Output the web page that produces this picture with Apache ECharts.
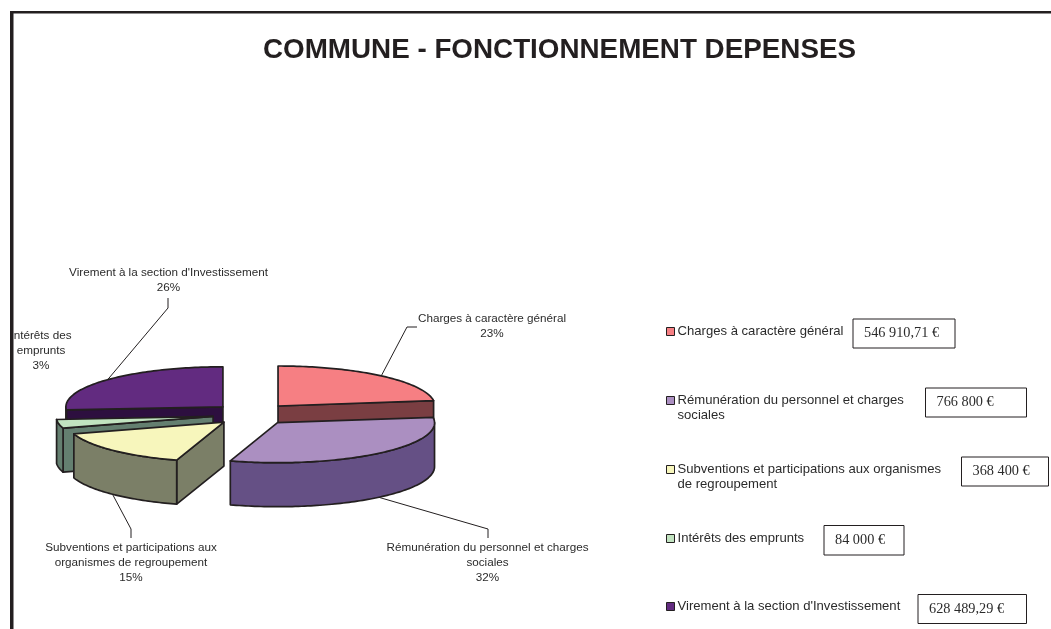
<!DOCTYPE html>
<html>
<head>
<meta charset="utf-8">
<title>Commune - fonctionnement depenses</title>
<script src="https://cdn.jsdelivr.net/npm/echarts@6/dist/echarts.min.js"></script>
<style>
html,body{margin:0;padding:0;background:#fff;}
#chart{width:1051px;height:629px;}
</style>
</head>
<body>
<div id="chart"></div>
<script>
var categories=['Charges à caractère général','Rémunération du personnel et charges sociales','Subventions et participations aux organismes de regroupement','Intérêts des emprunts',"Virement à la section d'Investissement"];
var values=[546910.71,766800,368400,84000,628489.29];
var amountLabels=['546 910,71 €','766 800 €','368 400 €','84 000 €','628 489,29 €'];
var percentLabels=['23%','32%','15%','3%','26%'];
var sliceLabels=['Charges à caractère général','Rémunération du personnel et charges\nsociales','Subventions et participations aux\norganismes de regroupement','Intérêts des\nemprunts',"Virement à la section d'Investissement"];
var legendLabels=['Charges à caractère général','Rémunération du personnel et charges\nsociales','Subventions et participations aux organismes\nde regroupement','Intérêts des emprunts',"Virement à la section d'Investissement"];

var topColors=['#F67F83','#AB8FC1','#F7F6BC','#C1E3C0','#622B80'];
var sideColors=['#7A3E42','#655085','#7B7F67','#647F70','#2D0F3F'];
var INK='#231F20';

// fake 3d pie: ellipse + explode, back slices drawn first
var pie={cx:252,cy:414.3,rx:157,ry:40,depth:44,explodeX:39.6,explodeY:11};
var drawOrder=[4,0,3,2,1];
var labelPos=[[492,326],[487.5,562.5],[131,562.5],[41,351],[168.5,280]];
// leader line bends, the start is taken from the slice itself
var leaderBends=[[[407,327],[417,327]],[[488,529],[488,538]],[[131,529],[131,538]],null,[[168,308],[168,298]]];
var legendTops=[324,378,447,531,599];
var boxes=[[853,319,102,29],[925.5,388,101,29],[961.5,457,87,29],[824,525.5,80,29.5],[918,594.5,108.5,29]];

var total=0;
for(var i=0;i<values.length;i++){ total+=values[i]; }
var startAngles=[];
var acc=0;
for(var i=0;i<values.length;i++){
    startAngles.push(acc/total*Math.PI*2);
    acc+=values[i];
}

function sliceStyle(fill){
    return {fill:fill,stroke:INK,lineWidth:1.7,lineJoin:'round'};
}
function rimPoint(apex,a,drop){
    return [apex[0]+pie.rx*Math.sin(a),apex[1]-pie.ry*Math.cos(a)+drop];
}
function arcPoints(apex,a0,a1,drop){
    var pts=[];
    var n=Math.max(2,Math.ceil((a1-a0)/0.02));
    for(var k=0;k<=n;k++){
        pts.push(rimPoint(apex,a0+(a1-a0)*k/n,drop));
    }
    return pts;
}
function facePoly(apex,a,fill){
    var p=rimPoint(apex,a,0);
    return {type:'polygon',shape:{points:[apex,p,[p[0],p[1]+pie.depth],[apex[0],apex[1]+pie.depth]]},style:sliceStyle(fill)};
}

function makeRender(idx){
    return function(params,api){
        var a0=startAngles[idx];
        var a1=a0+api.value(0)/total*Math.PI*2;
        var mid=(a0+a1)/2;
        var apex=[pie.cx+pie.explodeX*Math.sin(mid),pie.cy-pie.explodeY*Math.cos(mid)];
        var kids=[];

        // leader goes under the slice
        if(leaderBends[idx]){
            var drop=Math.cos(mid)<0?pie.depth:0;
            kids.push({type:'polyline',shape:{points:[rimPoint(apex,mid,drop)].concat(leaderBends[idx])},style:{fill:null,stroke:INK,lineWidth:1}});
        }
        // cut faces that look towards the viewer
        if(Math.cos(a0-Math.PI/2)<-0.001){ kids.push(facePoly(apex,a0,sideColors[idx])); }
        if(Math.cos(a1+Math.PI/2)<-0.001){ kids.push(facePoly(apex,a1,sideColors[idx])); }
        // outer wall only on the front half
        var w0=Math.max(a0,Math.PI/2),w1=Math.min(a1,Math.PI*1.5);
        if(w1>w0){
            var wall=arcPoints(apex,w0,w1,0).concat(arcPoints(apex,w0,w1,pie.depth).reverse());
            kids.push({type:'polygon',shape:{points:wall},style:sliceStyle(sideColors[idx])});
        }
        kids.push({type:'polygon',shape:{points:[apex].concat(arcPoints(apex,a0,a1,0))},style:sliceStyle(topColors[idx])});
        return {type:'group',children:kids};
    };
}

var series=[];
for(var j=0;j<drawOrder.length;j++){
    var idx=drawOrder[j];
    series.push({
        name:categories[idx],
        type:'custom',
        coordinateSystem:'none',
        silent:true,
        animation:false,
        itemStyle:{color:topColors[idx]},
        renderItem:makeRender(idx),
        data:[[values[idx]]]
    });
}

var legends=[];
for(var i=0;i<categories.length;i++){
    legends.push({
        left:666,
        top:legendTops[i],
        padding:0,
        orient:'vertical',
        selectedMode:false,
        icon:'rect',
        itemWidth:8,
        itemHeight:8,
        itemGap:0,
        data:[categories[i]],
        itemStyle:{color:topColors[i],borderColor:INK,borderWidth:1},
        textStyle:{fontFamily:'"Liberation Sans",Arial,sans-serif',fontSize:13.1,color:'#2b2b2b',lineHeight:15,padding:[0,0,0,-2]},
        formatter:(function(k){
            return function(){
                // leading blank line keeps the swatch on the first text line
                return legendLabels[k].indexOf('\n')>=0?'\n'+legendLabels[k]:legendLabels[k];
            };
        })(i)
    });
}

var graphics=[
    {type:'rect',z:100,shape:{x:10,y:11,width:1041,height:2.5},style:{fill:INK}},
    {type:'rect',z:100,shape:{x:10,y:11,width:3.5,height:618},style:{fill:INK}}
];
for(var i=0;i<categories.length;i++){
    var b=boxes[i];
    graphics.push({type:'rect',shape:{x:b[0],y:b[1],width:b[2],height:b[3]},style:{fill:'#fff',stroke:INK,lineWidth:1}});
    graphics.push({type:'text',x:b[0]+11,y:b[1]+b[3]/2,style:{text:amountLabels[i],fill:'#2b2b2b',font:'14.3px "Liberation Serif","Times New Roman",serif',verticalAlign:'middle'}});
    var lp=labelPos[i];
    graphics.push({type:'text',x:lp[0],y:lp[1],style:{text:sliceLabels[i]+'\n'+percentLabels[i],fill:'#2b2b2b',font:'11.7px "Liberation Sans",Arial,sans-serif',lineHeight:15,align:'center',verticalAlign:'middle'}});
}

var chart=echarts.init(document.getElementById('chart'),null,{renderer:'canvas'});
chart.setOption({
    backgroundColor:'#fff',
    animation:false,
    title:{
        text:'COMMUNE - FONCTIONNEMENT DEPENSES',
        left:559.5,
        top:36,
        textAlign:'center',
        padding:0,
        textStyle:{fontFamily:'"Liberation Sans",Arial,sans-serif',fontSize:27.8,fontWeight:'bold',color:INK}
    },
    legend:legends,
    graphic:graphics,
    series:series
});
</script>
</body>
</html>
